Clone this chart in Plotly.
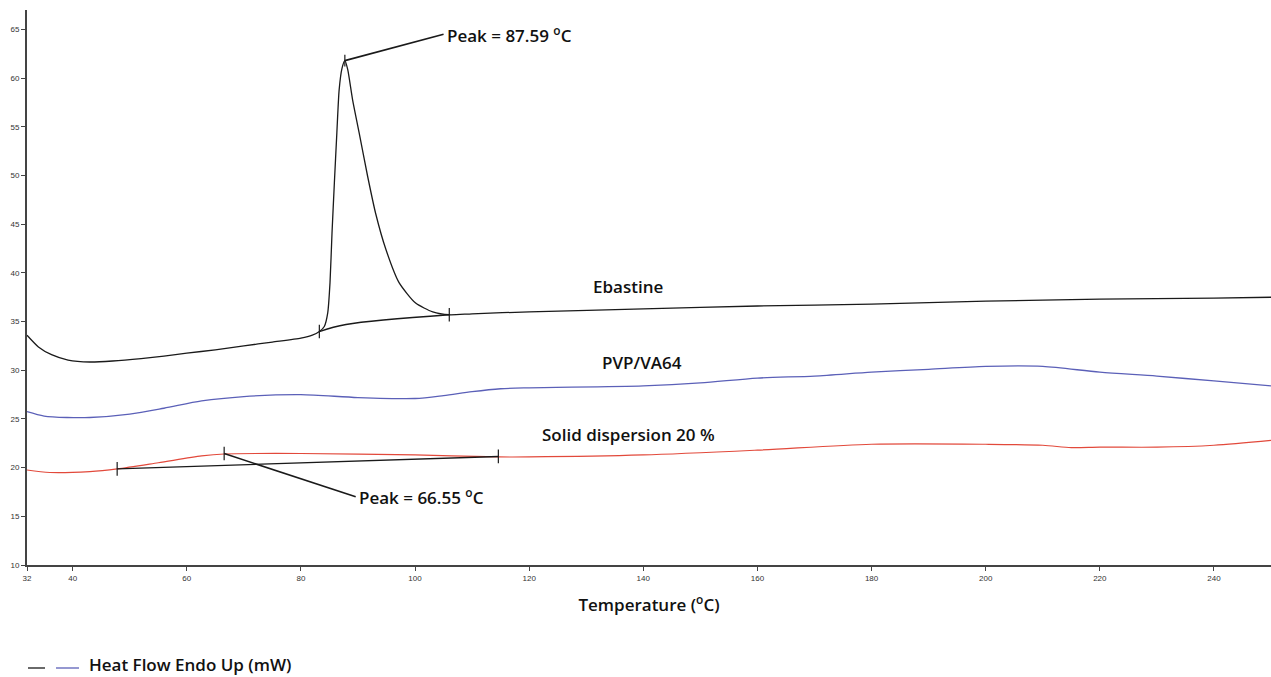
import plotly.graph_objects as go

# ---- data ----
eb_T = [32, 34.0, 36.3, 39.2, 43.0, 47, 52, 56, 60, 65, 70, 75, 80, 82, 83.23, 84.1, 84.7, 85.1, 85.45, 85.86, 86.3, 86.7, 87.2, 87.7,
        88.2, 89.05, 90.2, 91.7, 93.1, 94.9, 97.2, 100.1, 103.1, 106.0, 110, 120, 140, 160, 180, 200, 220, 240, 250]
eb_H = [33.6, 32.4, 31.6, 31.05, 30.85, 30.95, 31.2, 31.45, 31.75, 32.1, 32.5, 32.9, 33.3, 33.6, 33.98, 34.5, 35.9, 39.0, 44.1, 49.2, 54.4, 58.8, 61.0, 61.8,
        60.9, 57.8, 54.4, 49.9, 46.1, 42.4, 39.0, 36.9, 36.0, 35.7, 35.8, 36.0, 36.3, 36.6, 36.8, 37.1, 37.3, 37.4, 37.5]
eb_base_T = [83.23, 87.9, 106.0]
eb_base_H = [33.98, 34.7, 35.7]

pvp_T = [32, 35, 39, 43, 50, 56, 62.6, 70, 80, 90, 100, 105, 110, 115, 120, 140, 150, 160, 170, 180, 190, 200, 210, 220, 230, 240, 250]
pvp_H = [25.75, 25.3, 25.15, 25.15, 25.5, 26.1, 26.85, 27.3, 27.5, 27.2, 27.1, 27.4, 27.8, 28.1, 28.2, 28.4, 28.7, 29.2, 29.4, 29.8, 30.1, 30.4, 30.4, 29.8, 29.4, 28.9, 28.4]

sd_T = [32, 36, 43, 47.8, 55, 62.6, 66.55, 80, 100, 114.6, 120, 140, 160, 180, 200, 210, 215, 220, 230, 240, 250]
sd_H = [19.76, 19.5, 19.6, 19.87, 20.5, 21.2, 21.4, 21.45, 21.3, 21.1, 21.1, 21.3, 21.8, 22.4, 22.4, 22.3, 22.05, 22.1, 22.1, 22.3, 22.8]
sd_base_T = [47.8, 114.6]
sd_base_H = [19.87, 21.15]

peak1 = {"T": 87.7, "H": 61.8, "label_T": 105.0, "label_H": 64.5, "text": "Peak = 87.59 <sup>o</sup>C"}
peak2 = {"T": 66.55, "H": 21.45, "label_T": 89.6, "label_H": 17.0, "text": "Peak = 66.55 <sup>o</sup>C"}

x_ticks = [32, 40, 60, 80, 100, 120, 140, 160, 180, 200, 220, 240, 250]
y_ticks = [10, 15, 20, 25, 30, 35, 40, 45, 50, 55, 60, 65]

BLACK = "#1a1a1a"
BLUE = "#5b60b8"
RED = "#e2493b"
LABEL_FONT = dict(family="Open Sans", size=17, color="#111111", weight=600)

fig = go.Figure()
fig.add_trace(go.Scatter(x=eb_T, y=eb_H, mode="lines", line=dict(color=BLACK, width=1.3, shape="spline", smoothing=0.6)))
fig.add_trace(go.Scatter(x=eb_base_T, y=eb_base_H, mode="lines", line=dict(color=BLACK, width=1.3, shape="spline")))
fig.add_trace(go.Scatter(x=pvp_T, y=pvp_H, mode="lines", line=dict(color=BLUE, width=1.3, shape="spline", smoothing=0.8)))
fig.add_trace(go.Scatter(x=sd_T, y=sd_H, mode="lines", line=dict(color=RED, width=1.2, shape="spline", smoothing=0.8)))
fig.add_trace(go.Scatter(x=sd_base_T, y=sd_base_H, mode="lines", line=dict(color=BLACK, width=1.4)))

# tick marks on baselines / peaks
def vtick(t, h, half=0.7):
    fig.add_shape(type="line", x0=t, x1=t, y0=h - half, y1=h + half, xref="x", yref="y",
                  line=dict(color=BLACK, width=1.2))

vtick(eb_base_T[0], eb_base_H[0])
vtick(eb_base_T[-1], eb_base_H[-1])
vtick(peak1["T"], peak1["H"], 0.6)
vtick(sd_base_T[0], sd_base_H[0])
vtick(sd_base_T[-1], sd_base_H[-1])
vtick(peak2["T"], peak2["H"])

for p in (peak1, peak2):
    fig.add_shape(type="line", x0=p["T"], y0=p["H"], x1=p["label_T"], y1=p["label_H"], xref="x", yref="y",
                  line=dict(color=BLACK, width=1.6))
    fig.add_annotation(x=p["label_T"], y=p["label_H"], text=p["text"], showarrow=False,
                       xanchor="left", yanchor="middle", xshift=1, font=LABEL_FONT)

fig.add_annotation(x=137.4, y=38.6, text="Ebastine", showarrow=False, font=LABEL_FONT)
fig.add_annotation(x=139.7, y=30.8, text="PVP/VA64", showarrow=False, font=LABEL_FONT)
fig.add_annotation(x=137.4, y=23.4, text="Solid dispersion 20 %", showarrow=False, font=LABEL_FONT)

# legend (bottom-left)
L, W_PLOT, B, H_PLOT = 27, 1244, 565, 555
def px(xp):
    return (xp - L) / W_PLOT
def py(yp):
    return (B - yp) / H_PLOT

fig.add_shape(type="line", xref="paper", yref="paper", x0=px(28), x1=px(45), y0=py(668), y1=py(668),
              line=dict(color=BLACK, width=1.3))
fig.add_shape(type="line", xref="paper", yref="paper", x0=px(56), x1=px(79), y0=py(668), y1=py(668),
              line=dict(color=BLUE, width=1.3))
fig.add_annotation(xref="paper", yref="paper", x=px(87), y=py(664), text="Heat Flow Endo Up (mW)",
                   showarrow=False, xanchor="left", yanchor="middle", font=LABEL_FONT)

axis_common = dict(showline=True, linecolor="#444444", linewidth=2, ticks="outside", ticklen=4,
                   tickcolor="#444444", tickwidth=1, showgrid=False, zeroline=False,
                   tickfont=dict(family="Liberation Sans", size=8, color="#333333"))

fig.update_layout(
    width=1271, height=677,
    margin=dict(l=27, r=0, t=10, b=112),
    paper_bgcolor="white", plot_bgcolor="white",
    showlegend=False,
    xaxis=dict(range=[32, 250], tickvals=x_ticks, ticktext=[str(v) for v in x_ticks], automargin=False,
               title=dict(text="Temperature (<sup>o</sup>C)", font=LABEL_FONT, standoff=18), **axis_common),
    yaxis=dict(range=[10, 67], tickvals=y_ticks, automargin=False, **axis_common),
)

fig.write_html("out.html")
